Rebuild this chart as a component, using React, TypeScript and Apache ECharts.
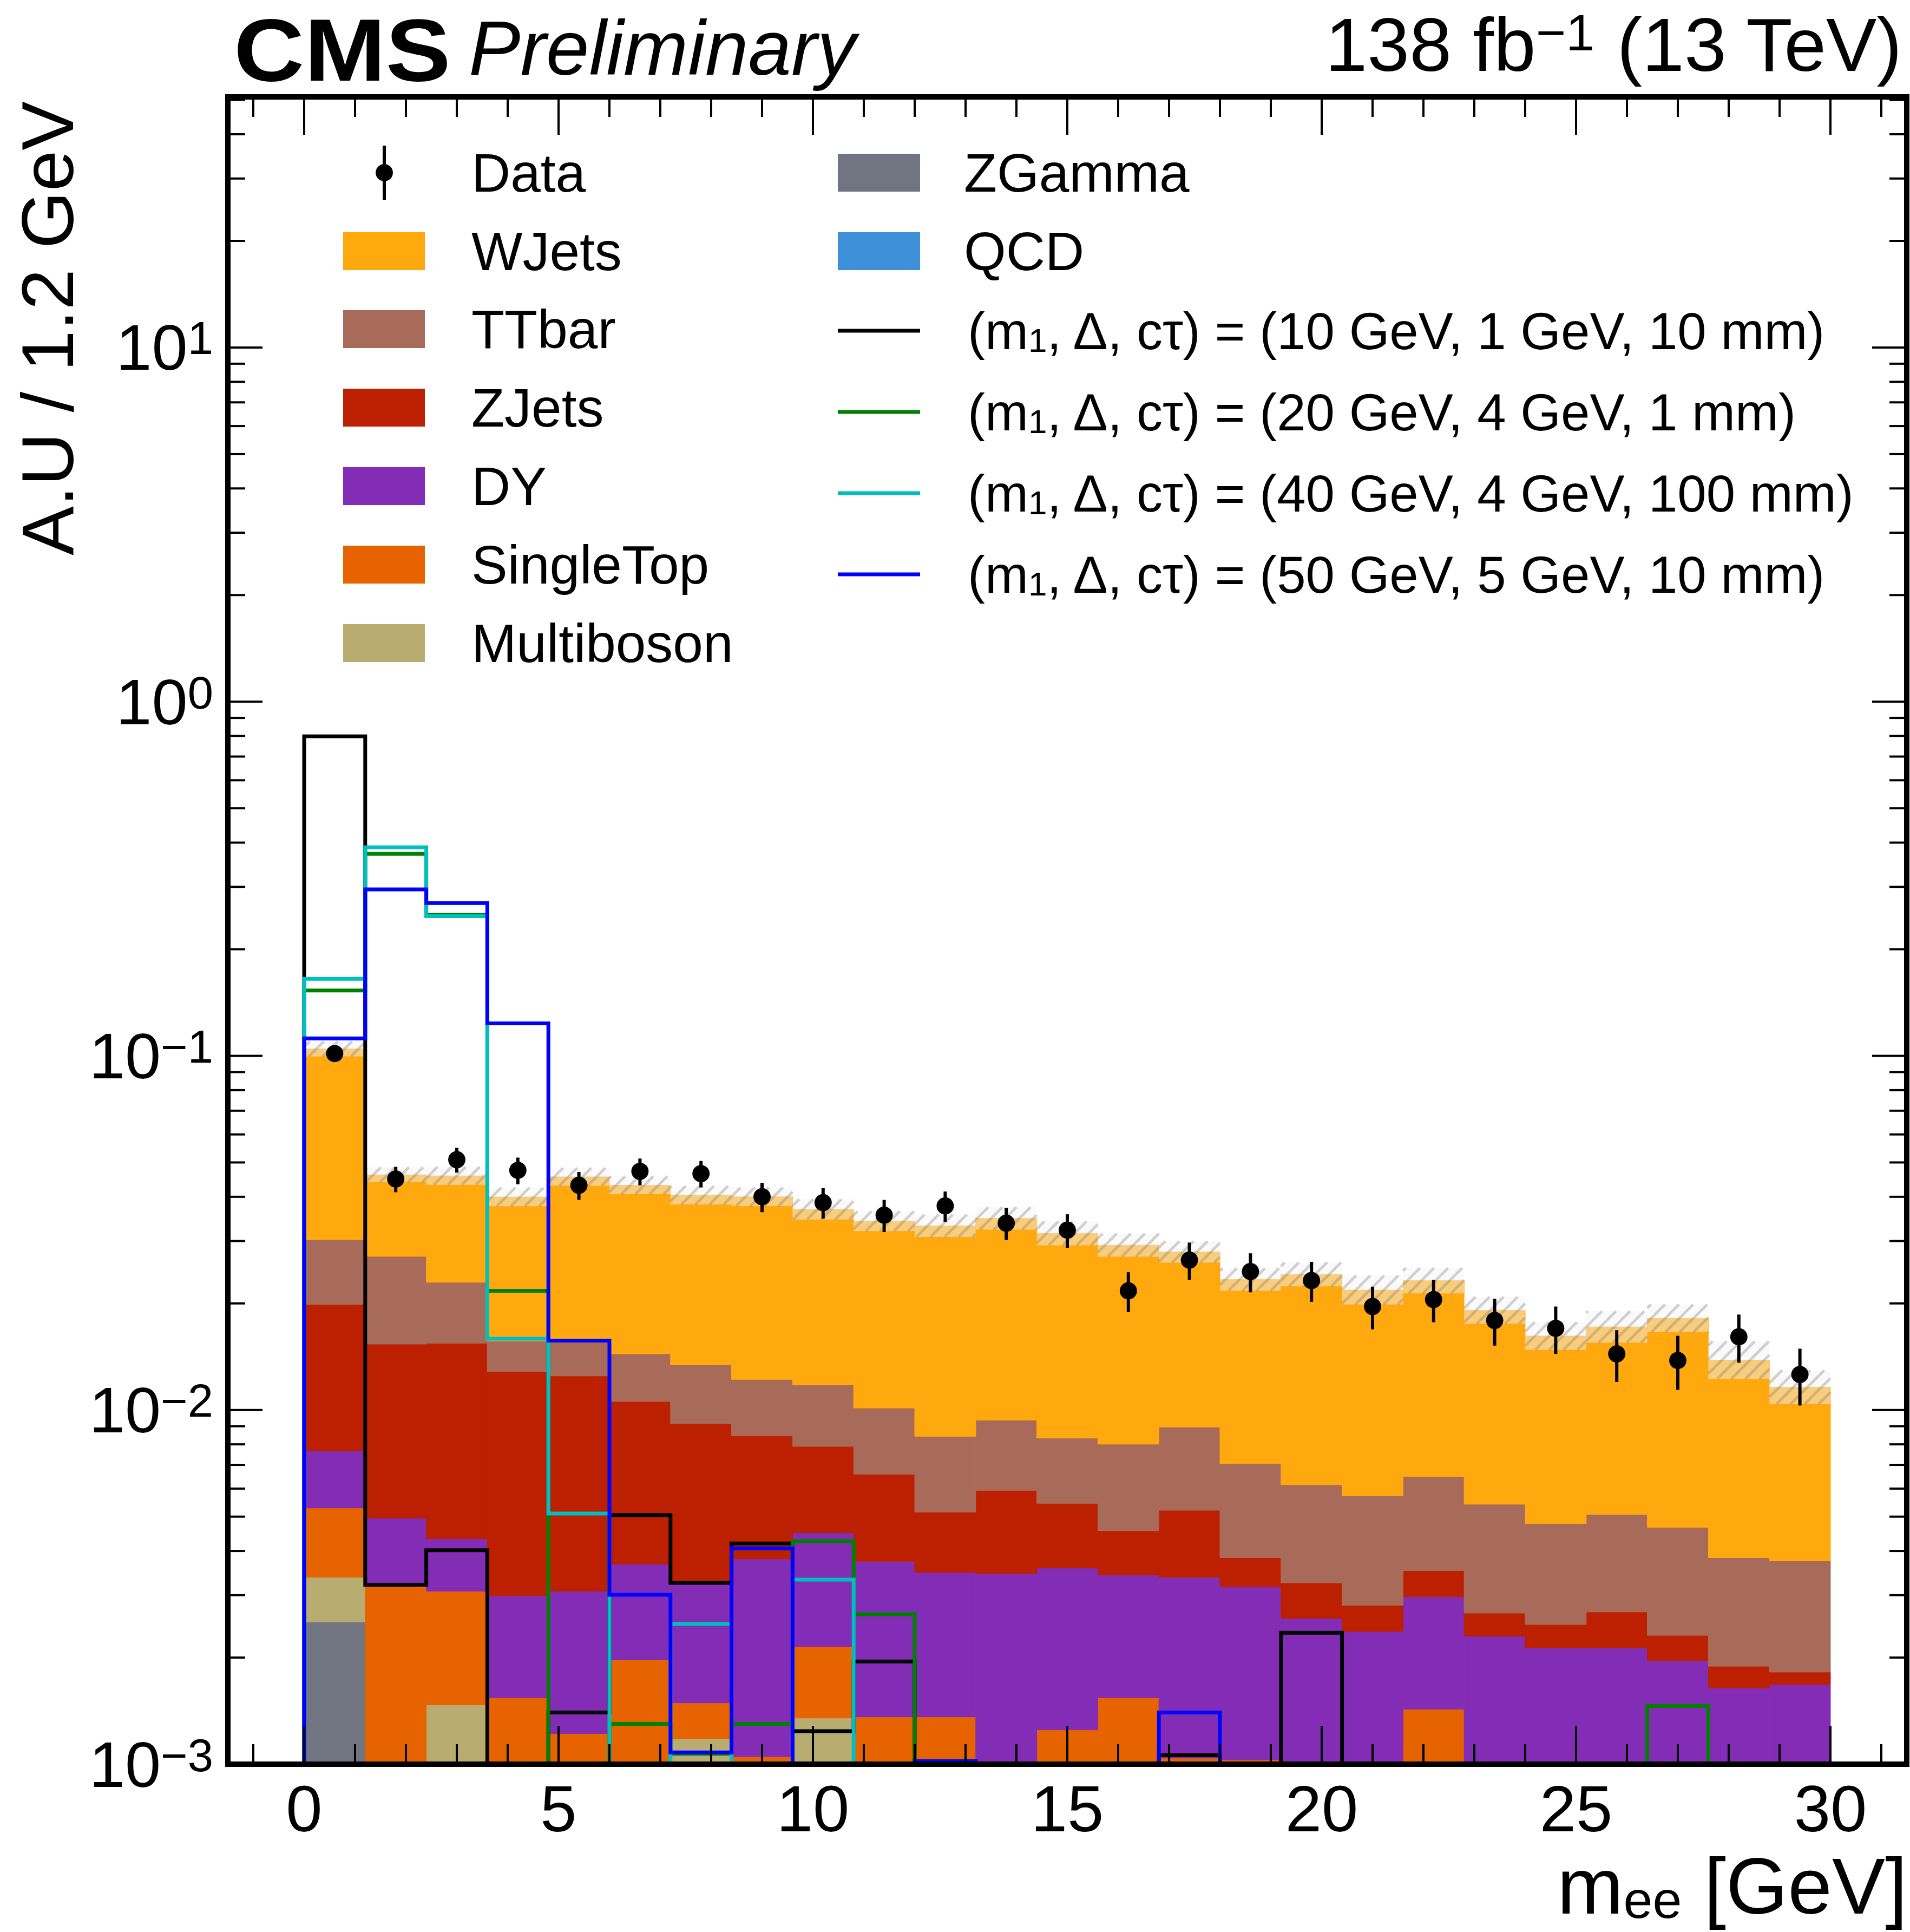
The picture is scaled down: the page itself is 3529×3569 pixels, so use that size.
import { useEffect, useRef } from "react";
import * as echarts from "echarts";

const FONT = "'Liberation Sans', Arial, Helvetica, sans-serif";

// 1.2 GeV bins from 0 to 30 GeV
const binEdges = [
  0, 1.2, 2.4, 3.6, 4.8, 6, 7.2, 8.4, 9.6, 10.8, 12, 13.2, 14.4, 15.6, 16.8, 18,
  19.2, 20.4, 21.6, 22.8, 24, 25.2, 26.4, 27.6, 28.8, 30,
];
const binCenters = binEdges.slice(0, -1).map((e, i) => (e + binEdges[i + 1]) / 2);

// backgrounds (A.U. per bin), bottom of the stack first
const zgamma = [
  2.52e-3, 0, 0, 0, 0, 0, 0, 0, 0, 0, 0, 0, 0, 0, 0, 0, 0, 0, 0, 0, 0, 0, 0, 0, 0,
];
const multiboson = [
  0.85e-3, 0, 1.47e-3, 0, 0, 0, 1.18e-3, 0, 1.35e-3, 0, 0, 0, 0, 0, 0, 0, 0, 0, 0, 0, 0, 0, 0, 0, 0,
];
const singleTop = [
  1.92e-3, 3.2e-3, 1.61e-3, 1.54e-3, 1.22e-3, 1.97e-3, 0.31e-3, 1.05e-3, 0.8e-3, 1.36e-3,
  1.36e-3, 0, 1.25e-3, 1.54e-3, 1.04e-3, 1.03e-3, 0, 0, 1.43e-3, 0, 0, 0, 0, 0, 0,
];
const dy = [
  2.37e-3, 1.75e-3, 1.25e-3, 1.45e-3, 1.86e-3, 1.7e-3, 1.76e-3, 2.75e-3, 2.35e-3, 2.38e-3,
  2.12e-3, 3.45e-3, 2.33e-3, 1.88e-3, 2.33e-3, 2.14e-3, 2.58e-3, 2.37e-3, 1.54e-3, 2.3e-3,
  2.13e-3, 2.13e-3, 1.96e-3, 1.64e-3, 1.68e-3,
];
const zjets = [
  12.2e-3, 10.4e-3, 11.1e-3, 9.85e-3, 9.4e-3, 6.9e-3, 5.9e-3, 4.65e-3, 3.39e-3, 2.85e-3,
  1.67e-3, 2.48e-3, 1.87e-3, 1.14e-3, 1.84e-3, 0.66e-3, 0.67e-3, 0.44e-3, 0.55e-3, 0.37e-3,
  0.35e-3, 0.56e-3, 0.35e-3, 0.25e-3, 0.14e-3,
];
const ttbar = [
  10.4e-3, 11.8e-3, 7.5e-3, 2.82e-3, 3.06e-3, 3.84e-3, 4.26e-3, 3.75e-3, 3.88e-3, 3.54e-3,
  3.28e-3, 3.43e-3, 2.88e-3, 3.45e-3, 3.74e-3, 3.23e-3, 2.9e-3, 2.91e-3, 2.97e-3, 2.75e-3,
  2.3e-3, 2.38e-3, 2.35e-3, 1.94e-3, 1.93e-3,
];
const wjets = [
  74.4e-3, 19.0e-3, 22.9e-3, 24.3e-3, 30.0e-3, 28.7e-3, 27.0e-3, 27.8e-3, 25.1e-3, 24.0e-3,
  24.7e-3, 25.4e-3, 23.2e-3, 21.2e-3, 19.0e-3, 16.3e-3, 18.0e-3, 16.1e-3, 16.7e-3, 13.7e-3,
  11.4e-3, 12.1e-3, 13.5e-3, 10.0e-3, 7.85e-3,
];
const qcd = [0, 0, 0, 0, 0, 0, 0, 0, 0, 0, 0, 0, 0, 0, 0, 0, 0, 0, 0, 0, 0, 0, 0, 0, 0];

// relative uncertainty of the total background
const bkgUnc = [
  0.05, 0.05, 0.06, 0.062, 0.06, 0.06, 0.062, 0.062, 0.068, 0.067, 0.075, 0.076, 0.081,
  0.078, 0.072, 0.076, 0.081, 0.099, 0.086, 0.091, 0.094, 0.108, 0.094, 0.13, 0.116,
];

// data
const dataValues = [
  0.1015, 0.0449, 0.0509, 0.0475, 0.0431, 0.0472, 0.0465, 0.04, 0.0385, 0.0355, 0.0377,
  0.0337, 0.0322, 0.0217, 0.0265, 0.0246, 0.0232, 0.0196, 0.0205, 0.0179, 0.017, 0.0144,
  0.0138, 0.0161, 0.0126,
];
const dataErrors = [
  0.003, 0.0037, 0.0041, 0.0041, 0.0039, 0.0041, 0.004, 0.0038, 0.0038, 0.0037, 0.0037,
  0.0035, 0.0035, 0.0028, 0.0032, 0.0031, 0.003, 0.0027, 0.0028, 0.0027, 0.0026, 0.0024,
  0.0024, 0.0025, 0.0023,
];

// signals
const sigBlack = [
  0.798, 3.21e-3, 4.02e-3, 0, 1.4e-3, 5.05e-3, 3.25e-3, 4.2e-3, 1.24e-3, 1.95e-3, 0, 0, 0, 0,
  1.06e-3, 0, 2.35e-3, 0, 0, 0, 0, 0, 0, 0, 0,
];
const sigGreen = [
  0.153, 0.372, 0.25, 0.0217, 0, 1.3e-3, 1.07e-3, 1.3e-3, 4.26e-3, 2.65e-3, 0, 0, 0, 0, 0, 0,
  0, 0, 0, 0, 0, 0, 1.46e-3, 0, 0,
];
const sigCyan = [
  0.165, 0.388, 0.248, 0.0159, 5.1e-3, 0, 2.49e-3, 0, 3.32e-3, 0, 0, 0, 0, 0, 0, 0, 0, 0, 0,
  0, 0, 0, 0, 0, 0,
];
const sigBlue = [
  0.112, 0.295, 0.27, 0.1235, 0.0157, 3.01e-3, 1.08e-3, 4.07e-3, 0, 0, 1.02e-3, 0, 0, 0,
  1.4e-3, 0, 0, 0, 0, 0, 0, 0, 0, 0, 0,
];

const processes = [
  { name: "ZGamma", color: "#717581", values: zgamma },
  { name: "Multiboson", color: "#b9ac70", values: multiboson },
  { name: "SingleTop", color: "#e76300", values: singleTop },
  { name: "DY", color: "#832db6", values: dy },
  { name: "ZJets", color: "#bd1f01", values: zjets },
  { name: "TTbar", color: "#a96b59", values: ttbar },
  { name: "WJets", color: "#ffa90e", values: wjets },
  { name: "QCD", color: "#3f90da", values: qcd },
];

const signals = [
  { label: "(m{s|1}, Δ, cτ) = (10 GeV, 1 GeV, 10 mm)", color: "#000000", values: sigBlack },
  { label: "(m{s|1}, Δ, cτ) = (20 GeV, 4 GeV, 1 mm)", color: "#008000", values: sigGreen },
  { label: "(m{s|1}, Δ, cτ) = (40 GeV, 4 GeV, 100 mm)", color: "#00bfbf", values: sigCyan },
  { label: "(m{s|1}, Δ, cτ) = (50 GeV, 5 GeV, 10 mm)", color: "#0000ff", values: sigBlue },
];

const xMajorTicks = [0, 5, 10, 15, 20, 25, 30];
const yMajorTicks = [1e-3, 1e-2, 1e-1, 1, 10];

const X_MIN = -1.5;
const X_MAX = 31.5;
const Y_MIN = 1e-3;
const Y_MAX = 51;

// cumulative stack
const cumulative: number[][] = [];
processes.forEach((p, k) => {
  cumulative.push(p.values.map((v, i) => (k === 0 ? 0 : cumulative[k - 1][i]) + v));
});
const totals = cumulative[cumulative.length - 1];

const binData = binCenters.map((c, i) => [c, 1, i]);

function stackRender(k: number, color: string) {
  return (_params: any, api: any) => {
    const i = api.value(2);
    const top = cumulative[k][i];
    const bottom = Math.max(k === 0 ? 0 : cumulative[k - 1][i], Y_MIN * 0.5);
    if (!(top > bottom) || top <= Y_MIN) return { type: "group", children: [] };
    const p0 = api.coord([binEdges[i], top]);
    const p1 = api.coord([binEdges[i + 1], bottom]);
    return {
      type: "rect",
      shape: { x: p0[0], y: p0[1], width: p1[0] - p0[0], height: p1[1] - p0[1] },
      style: { fill: color, stroke: color, lineWidth: 1 },
    };
  };
}

function hatchLines(x0: number, x1: number, yT: number, yB: number) {
  const s = 26;
  const out: any[] = [];
  const start = Math.ceil((x0 + yT) / s) * s;
  for (let c = start; c <= x1 + yB; c += s) {
    const xa = Math.max(x0, c - yB);
    const xb = Math.min(x1, c - yT);
    if (xb > xa) {
      out.push({
        type: "line",
        shape: { x1: xa, y1: c - xa, x2: xb, y2: c - xb },
        style: { stroke: "rgba(110,110,110,0.3)", lineWidth: 5 },
      });
    }
  }
  return out;
}

const bandRender = (_params: any, api: any) => {
  const i = api.value(2);
  const tot = totals[i];
  const hi = api.coord([binEdges[i], tot * (1 + bkgUnc[i])]);
  const lo = api.coord([binEdges[i + 1], tot / (1 + bkgUnc[i])]);
  return {
    type: "group",
    children: [
      {
        type: "rect",
        shape: { x: hi[0], y: hi[1], width: lo[0] - hi[0], height: lo[1] - hi[1] },
        style: { fill: "rgba(245,245,245,0.48)" },
      },
      ...hatchLines(hi[0], lo[0], hi[1], lo[1]),
    ],
  };
};

function stepRender(values: number[], color: string) {
  return (_params: any, api: any) => {
    const floor = Y_MIN * 0.5;
    const pts: number[][] = [api.coord([binEdges[0], floor])];
    values.forEach((v, i) => {
      const y = v > 0 ? v : floor;
      pts.push(api.coord([binEdges[i], y]), api.coord([binEdges[i + 1], y]));
    });
    pts.push(api.coord([binEdges[binEdges.length - 1], floor]));
    return {
      type: "polyline",
      shape: { points: pts },
      style: { stroke: color, lineWidth: 7, fill: "none", lineJoin: "miter" },
    };
  };
}

const dataRender = (_params: any, api: any) => {
  const i = api.value(2);
  const c = binCenters[i];
  const p = api.coord([c, dataValues[i]]);
  const lo = api.coord([c, dataValues[i] - dataErrors[i]]);
  const hi = api.coord([c, dataValues[i] + dataErrors[i]]);
  return {
    type: "group",
    children: [
      { type: "line", shape: { x1: p[0], y1: lo[1], x2: p[0], y2: hi[1] }, style: { stroke: "#000", lineWidth: 6 } },
      { type: "circle", shape: { cx: p[0], cy: p[1], r: 16 }, style: { fill: "#000" } },
    ],
  };
};

const ticksRender = (params: any, api: any) => {
  const cs = params.coordSys;
  const out: any[] = [];
  const tick = (x1: number, y1: number, x2: number, y2: number) =>
    out.push({ type: "line", shape: { x1, y1, x2, y2 }, style: { stroke: "#000", lineWidth: 4 } });
  for (let v = -1; v <= 31; v++) {
    const len = xMajorTicks.includes(v) ? 70 : 37;
    const px = api.coord([v, 1])[0];
    tick(px, cs.y + cs.height, px, cs.y + cs.height - len);
    tick(px, cs.y, px, cs.y + len);
  }
  yMajorTicks.forEach((base) => {
    for (let k = 1; k <= 9; k++) {
      const v = base * k;
      if (v > Y_MAX) break;
      const len = k === 1 ? 64 : 32;
      const py = api.coord([0, v])[1];
      tick(cs.x, py, cs.x + len, py);
      tick(cs.x + cs.width, py, cs.x + cs.width - len, py);
    }
  });
  return { type: "group", children: out };
};

const legendLeft = [
  { label: "WJets", color: "#ffa90e", y: 464 },
  { label: "TTbar", color: "#a96b59", y: 608 },
  { label: "ZJets", color: "#bd1f01", y: 753 },
  { label: "DY", color: "#832db6", y: 898 },
  { label: "SingleTop", color: "#e76300", y: 1043 },
  { label: "Multiboson", color: "#b9ac70", y: 1188 },
];
const legendRightBoxes = [
  { label: "ZGamma", color: "#717581", y: 319 },
  { label: "QCD", color: "#3f90da", y: 464 },
];
const signalRows = [611, 761, 911, 1061];

function buildGraphic() {
  const els: any[] = [];
  const txt = (x: number, y: number, text: string, extra: any = {}, el: any = {}) =>
    els.push({
      type: "text",
      x,
      y,
      z: 50,
      ...el,
      style: {
        text,
        fontSize: 100,
        lineHeight: 100,
        fontFamily: FONT,
        fill: "#000",
        align: "left",
        verticalAlign: "middle",
        ...extra,
      },
    });
  // data entry
  els.push({ type: "line", z: 50, shape: { x1: 710, y1: 269, x2: 710, y2: 369 }, style: { stroke: "#000", lineWidth: 6 } });
  els.push({ type: "circle", z: 50, shape: { cx: 710, cy: 319, r: 16 }, style: { fill: "#000" } });
  txt(871, 319, "Data");
  legendLeft.forEach((e) => {
    els.push({ type: "rect", z: 50, shape: { x: 634, y: e.y - 35, width: 151, height: 70 }, style: { fill: e.color } });
    txt(871, e.y, e.label);
  });
  legendRightBoxes.forEach((e) => {
    els.push({ type: "rect", z: 50, shape: { x: 1548, y: e.y - 35, width: 152, height: 70 }, style: { fill: e.color } });
    txt(1781, e.y, e.label);
  });
  signals.forEach((s, i) => {
    const y = signalRows[i];
    els.push({ type: "line", z: 50, shape: { x1: 1548, y1: y, x2: 1700, y2: y }, style: { stroke: s.color, lineWidth: 7 } });
    txt(1788, y, s.label, {
      fontSize: 96,
      lineHeight: 96,
      rich: { s: { fontSize: 62, lineHeight: 30, verticalAlign: "bottom", fontFamily: FONT, fill: "#000" } },
    });
  });
  // header
  txt(432, 92, "CMS", { fontSize: 164, lineHeight: 140, fontWeight: "bold" }, { scaleX: 1.1 });
  txt(866, 88, "Preliminary", { fontSize: 143, lineHeight: 120, fontStyle: "italic" });
  txt(3514, 82, "138 fb{s|−1} (13 TeV)", {
    fontSize: 140,
    lineHeight: 140,
    align: "right",
    rich: { s: { fontSize: 95, lineHeight: 66, verticalAlign: "top", fontFamily: FONT, fill: "#000" } },
  });
  // axis titles
  els.push({
    type: "text",
    x: 88,
    y: 187,
    rotation: Math.PI / 2,
    z: 50,
    style: {
      text: "A.U / 1.2 GeV",
      fontSize: 136,
      lineHeight: 110,
      fontFamily: FONT,
      fill: "#000",
      align: "right",
      verticalAlign: "middle",
    },
  });
  txt(3524, 3484, "m{s|ee} [GeV]", {
    fontSize: 147,
    lineHeight: 147,
    align: "right",
    rich: { s: { fontSize: 97, lineHeight: 77, verticalAlign: "bottom", fontFamily: FONT, fill: "#000" } },
  });
  return els;
}

const frameLine = { show: true, onZero: false, lineStyle: { color: "#000", width: 10, cap: "square" } };

const option: any = {
  animation: false,
  backgroundColor: "#ffffff",
  grid: { left: 421, right: 6, top: 179, bottom: 310, containLabel: false },
  xAxis: [
    {
      type: "value",
      min: X_MIN,
      max: X_MAX,
      position: "bottom",
      z: 10,
      axisLine: frameLine,
      axisTick: { show: false },
      splitLine: { show: false },
      axisLabel: {
        show: true,
        margin: 21,
        fontSize: 121,
        fontFamily: FONT,
        color: "#000",
        showMinLabel: false,
        showMaxLabel: false,
        formatter: (v: number) => (Math.abs(v % 5) < 1e-9 ? String(Math.round(v)) : ""),
      },
    },
    {
      type: "value",
      min: X_MIN,
      max: X_MAX,
      position: "top",
      z: 10,
      axisLine: frameLine,
      axisTick: { show: false },
      splitLine: { show: false },
      axisLabel: { show: false },
    },
  ],
  yAxis: [
    {
      type: "log",
      logBase: 10,
      min: Y_MIN,
      max: Y_MAX,
      position: "left",
      z: 10,
      axisLine: frameLine,
      axisTick: { show: false },
      splitLine: { show: false },
      minorTick: { show: false },
      axisLabel: {
        show: true,
        margin: 27,
        fontSize: 119,
        fontFamily: FONT,
        color: "#000",
        showMaxLabel: false,
        formatter: (v: number) => {
          const e = Math.log10(v);
          const r = Math.round(e);
          if (Math.abs(e - r) > 1e-6) return "";
          return "{b|10}{s|" + (r < 0 ? "−" + -r : String(r)) + "}";
        },
        rich: {
          b: { fontSize: 119, lineHeight: 119, fontFamily: FONT, color: "#000" },
          s: { fontSize: 85, lineHeight: 59, verticalAlign: "top", fontFamily: FONT, color: "#000" },
        },
      },
    },
    {
      type: "log",
      logBase: 10,
      min: Y_MIN,
      max: Y_MAX,
      position: "right",
      z: 10,
      axisLine: frameLine,
      axisTick: { show: false },
      splitLine: { show: false },
      axisLabel: { show: false },
    },
  ],
  series: [
    ...processes.map((p, k) => ({
      type: "custom",
      name: p.name,
      xAxisIndex: 0,
      yAxisIndex: 0,
      clip: true,
      z: 2,
      data: binData,
      renderItem: stackRender(k, p.color),
    })),
    {
      type: "custom",
      name: "Uncertainty",
      xAxisIndex: 0,
      yAxisIndex: 0,
      clip: true,
      z: 3,
      data: binData,
      renderItem: bandRender,
    },
    ...signals.map((s) => ({
      type: "custom",
      name: s.label,
      xAxisIndex: 0,
      yAxisIndex: 0,
      clip: true,
      z: 4,
      data: [[15, 1, 0]],
      renderItem: stepRender(s.values, s.color),
    })),
    {
      type: "custom",
      name: "Data",
      xAxisIndex: 0,
      yAxisIndex: 0,
      clip: true,
      z: 5,
      data: binData,
      renderItem: dataRender,
    },
    {
      type: "custom",
      name: "ticks",
      xAxisIndex: 0,
      yAxisIndex: 0,
      clip: false,
      z: 6,
      silent: true,
      data: [[15, 1, 0]],
      renderItem: ticksRender,
    },
  ],
  graphic: { elements: buildGraphic() },
};

export default function App() {
  const chartRef = useRef<HTMLDivElement>(null);

  useEffect(() => {
    const chart = echarts.init(chartRef.current, null, { renderer: "svg" });
    chart.setOption(option);
    return () => {
      chart.dispose();
    };
  }, []);

  return (
    <div
      ref={chartRef}
      style={{ position: "absolute", left: 0, top: 0, width: 3529, height: 3569, background: "#fff" }}
    />
  );
}
